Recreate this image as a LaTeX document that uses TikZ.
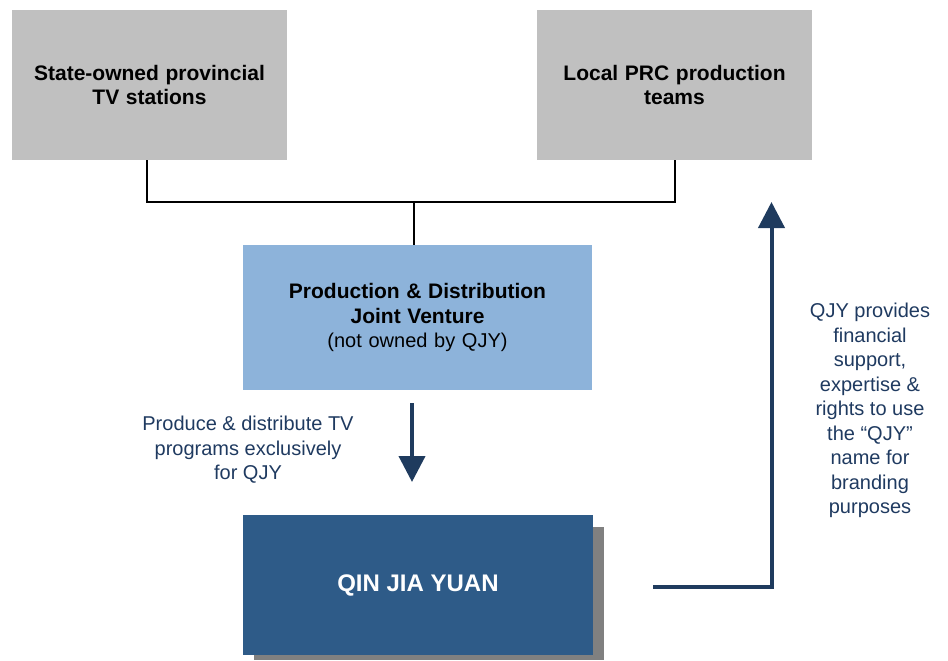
\documentclass[tikz,border=0pt]{standalone}
\usepackage{fontspec}
\setmainfont{Liberation Sans}
\usetikzlibrary{arrows.meta}
\definecolor{boxgray}{HTML}{C0C0C0}
\definecolor{jvblue}{HTML}{8DB3DA}
\definecolor{qjyblue}{HTML}{2E5B88}
\definecolor{arrowblue}{HTML}{1F3B5E}
\definecolor{textblue}{HTML}{1F3A60}
\definecolor{shadowgray}{HTML}{808080}
\newcommand{\bt}[1]{{\fontsize{21}{24.5}\selectfont\bfseries #1}}
\tikzset{
  basefont/.style={font=\fontsize{20}{24.5}\selectfont},
  graybox/.style={basefont, fill=boxgray, minimum width=275pt, minimum height=150pt, inner sep=0pt, align=center, text width=270pt},
  jvbox/.style={basefont, fill=jvblue, minimum width=349pt, minimum height=145pt, inner sep=0pt, align=center, text width=340pt},
  qjybox/.style={font=\fontsize{24}{28}\selectfont\bfseries, text=white, fill=qjyblue, minimum width=350pt, minimum height=140pt, inner sep=0pt, align=center},
  shadowbox/.style={fill=shadowgray, minimum width=350pt, minimum height=133pt, inner sep=0pt},
  joinline/.style={draw=black, line width=2pt},
  bigarrow/.style={draw=arrowblue, line width=4pt, -{Triangle[width=26pt,length=26pt]}},
  label/.style={basefont, text=textblue, align=center}
}
\begin{document}
\begin{tikzpicture}[x=1pt,y=-1pt]
\useasboundingbox (0,0) rectangle (948,661);
% boxes
\node[graybox] (state) at (149.5,85) {\bt{State-owned provincial}\\\bt{TV stations}\\[-3pt]};
\node[graybox] (local) at (674.5,85) {\bt{Local PRC production}\\\bt{teams}};
\node[jvbox] (jv) at (417.5,317.5) {\bt{Production \& Distribution}\\\bt{Joint Venture}\\(not owned by QJY)};
\node[shadowbox] (shadow) at (429,593.5) {};
\node[qjybox] (qjy) at (418,585) {QIN JIA YUAN};
% join connector
\coordinate (join) at (414,202);
\draw[joinline] (state.south -| 147,0) |- (join) -| (local.south -| 675,0);
\draw[joinline] (join) -- (join |- jv.north);
% down arrow
\coordinate (dtop) at (412,403);
\coordinate (dtip) at (412,482);
\draw[bigarrow] (dtop) -- (dtip);
\node[label] (prodtext) at (248,450) {Produce \& distribute TV\\programs exclusively\\for QJY};
% right arrow
\coordinate (rstart) at (653,587);
\coordinate (rcorner) at (771.5,587);
\coordinate (rtip) at (771.5,202);
\draw[bigarrow, line join=miter] (rstart) -- (rcorner) -- (rtip);
\node[label] (qjytext) at (870,410.5) {QJY provides\\financial\\support,\\expertise \&\\rights to use\\the “QJY”\\name for\\branding\\purposes};
\end{tikzpicture}
\end{document}
